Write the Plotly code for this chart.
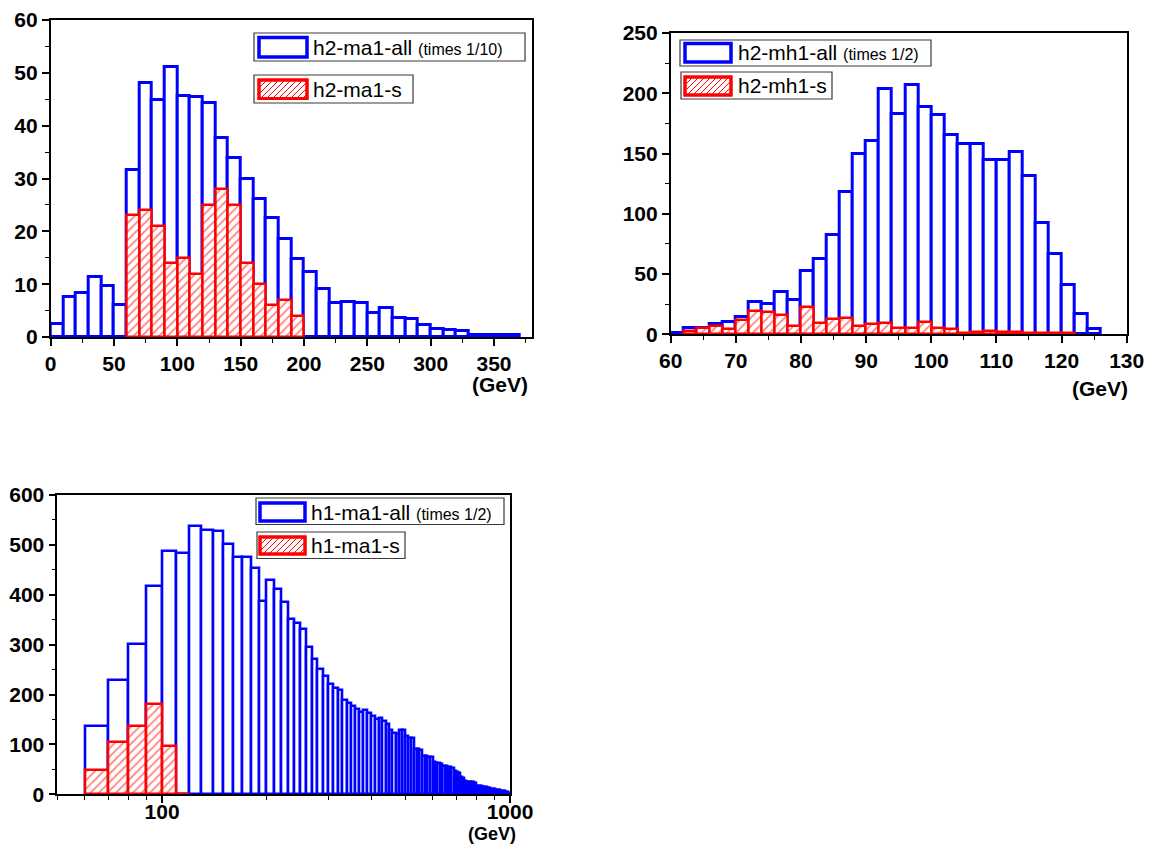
import math
import plotly.graph_objects as go

# page body keeps its default 8px margin, so the figure is sized to fit inside it
OFF = 8
W, H = 1153 - 2 * OFF, 852 - 2 * OFF

# ---------------- data ----------------
# top-left: h2-ma1, bins of 10 GeV
h2ma1_all_bins = list(range(0, 370, 10))
h2ma1_all = [2.4, 7.5, 8.4, 11.4, 9.6, 6.1, 31.7, 48.1, 44.8, 51.1, 45.6, 45.5, 44.2,
             37.7, 33.8, 29.9, 26.1, 22.5, 18.5, 14.8, 12.3, 9.0, 6.5, 6.7, 6.5, 4.6,
             5.4, 3.6, 3.4, 2.2, 1.5, 1.3, 1.1, 0.3, 0.3, 0.3, 0.3]
h2ma1_s_bins = list(range(60, 200, 10))
h2ma1_s = [23, 24, 21, 14, 15, 12, 25, 28, 25, 14, 10, 6, 7, 4]

# top-right: h2-mh1, bins of 2 GeV
h2mh1_all_bins = list(range(60, 126, 2))
h2mh1_all = [1, 5, 5.5, 8.5, 10.5, 14.5, 26.5, 25.5, 35.5, 28.5, 52.5, 62.5, 82.5, 118,
             149.5, 160.5, 203.5, 183, 207, 189, 182, 165, 157.5, 157.5, 145, 144.5,
             151.5, 131, 92.5, 66.5, 40.5, 17, 4.5]
h2mh1_s_bins = list(range(62, 122, 2))
h2mh1_s = [3, 5, 7, 4.5, 12, 19.5, 18.5, 16, 7, 23, 9, 13, 13.5, 7, 8.5, 9.5, 5.5, 5.5,
           10.5, 5.5, 4.5, 0.8, 1.5, 3, 1.5, 1.5, 0.8, 0.8, 0.8, 0.8]

# bottom: h1-ma1, bins of 10 GeV on a log axis
h1ma1_all_bins = list(range(60, 1000, 10))
h1ma1_all = [136.5, 229, 302, 417.5, 488, 484, 538, 530, 528.5, 502,
             476.5, 476, 453, 387, 429.5, 411, 386, 350.5, 343, 331,
             295, 271.5, 251.5, 238, 221.5, 212.5, 209.5, 190, 184, 178,
             172, 165, 169, 163, 156, 150, 152, 146, 141, 129,
             122, 121, 129, 128, 117, 113, 112, 91, 90, 89,
             77, 76, 75, 74, 64, 63, 62, 61, 57, 56,
             55, 54, 53, 46, 44, 43, 34, 33, 26, 25,
             24, 25, 24, 23, 17, 16, 16, 15, 15, 14,
             13, 13, 11, 10, 10, 9, 9, 8, 7, 6,
             6, 5, 4, 3]
h1ma1_s_bins = list(range(60, 120, 10))
h1ma1_s = [49.5, 104, 136.5, 182, 96.5, 1.5]

BLUE = "#0000ff"
RED = "#ff0000"
FONT = "Liberation Sans"

fig = go.Figure()


def add_pair(bins_all, vals_all, w, bins_s, vals_s, xa, ya, lw_all, lw_s):
    fig.add_trace(go.Bar(x=bins_all, y=vals_all, width=w, offset=0,
                         xaxis=xa, yaxis=ya, showlegend=False,
                         marker=dict(color="white", line=dict(color=BLUE, width=lw_all))))
    fig.add_trace(go.Bar(x=bins_s, y=vals_s, width=w, offset=0,
                         xaxis=xa, yaxis=ya, showlegend=False,
                         marker=dict(color="white", line=dict(color=RED, width=lw_s),
                                     pattern=dict(shape="/", fgcolor=RED, bgcolor="white",
                                                  size=6, solidity=0.3, fillmode="overlay"))))


add_pair(h2ma1_all_bins, h2ma1_all, 10, h2ma1_s_bins, h2ma1_s, "x", "y", 3, 2.5)
add_pair(h2mh1_all_bins, h2mh1_all, 2, h2mh1_s_bins, h2mh1_s, "x2", "y2", 3, 2.5)
add_pair(h1ma1_all_bins, h1ma1_all, 10, h1ma1_s_bins, h1ma1_s, "x3", "y3", 2.6, 2.6)


def px_x(p):
    return (p - OFF) / W


def px_y(p):
    return 1 - (p - OFF) / H


tickfont = dict(family=FONT, size=21, color="black", weight="bold")


def main_axis(domain, rng, anchor, dtick=None, minor_dtick=None, **kw):
    d = dict(domain=domain, range=rng, anchor=anchor, showline=True, mirror=True,
             linecolor="black", linewidth=1.6, ticks="outside", ticklen=7, tickwidth=1.6,
             tickcolor="black", showgrid=False, zeroline=False, tickfont=tickfont,
             fixedrange=True, automargin=False)
    if dtick is not None:
        d.update(tickmode="linear", tick0=rng[0], dtick=dtick)
    if minor_dtick is not None:
        d["minor"] = dict(dtick=minor_dtick, ticks="outside", ticklen=4, tickwidth=1.4,
                          tickcolor="black", showgrid=False)
    d.update(kw)
    return d


def mirror_axis(over, anchor, side, rng, tick0, dtick, **kw):
    d = dict(overlaying=over, anchor=anchor, side=side, range=rng, tickmode="linear",
             tick0=tick0, dtick=dtick, ticks="inside", ticklen=5, tickwidth=1.4,
             tickcolor="black", showticklabels=False, showline=False, showgrid=False,
             zeroline=False, fixedrange=True, automargin=False)
    d.update(kw)
    return d


x1d = [px_x(50.7), px_x(532)]
y1d = [px_y(337), px_y(20)]
x2d = [px_x(670.7), px_x(1126.7)]
y2d = [px_y(334.3), px_y(33)]
x3d = [px_x(57.3), px_x(510)]
y3d = [px_y(794.3), px_y(495)]
logr = [math.log10(50), 3]

layout = dict(
    width=W, height=H, margin=dict(l=0, r=0, t=0, b=0, pad=0, autoexpand=False),
    paper_bgcolor="white", plot_bgcolor="white", barmode="overlay", bargap=0,
    showlegend=False,
    xaxis=main_axis(x1d, [0, 380], "y", 50, 25),
    yaxis=main_axis(y1d, [0, 60], "x", 10, 5),
    xaxis2=main_axis(x2d, [60, 130], "y2", 10, 5),
    yaxis2=main_axis(y2d, [0, 250], "x2", 50, 25),
    xaxis3=main_axis(x3d, logr, "y3", type="log", tickmode="array",
                     tickvals=[100, 1000], ticktext=["100", "1000"],
                     ticklabelstandoff=-9,
                     minor=dict(tickvals=[50, 60, 70, 80, 90, 200, 300, 400, 500, 600,
                                          700, 800, 900],
                                ticks="outside", ticklen=4, tickwidth=1.4,
                                tickcolor="black", showgrid=False)),
    yaxis3=main_axis(y3d, [0, 600], "x3", 100, 50),
    xaxis4=mirror_axis("x", "y", "top", [0, 380], 0, 38),
    yaxis4=mirror_axis("y", "x", "right", [0, 60], 0, 6),
    xaxis5=mirror_axis("x2", "y2", "top", [60, 130], 60, 7),
    yaxis5=mirror_axis("y2", "x2", "right", [0, 250], 0, 25),
    xaxis6=mirror_axis("x3", "y3", "top", logr, math.log10(50), (3 - math.log10(50)) / 10,
                       type="log"),
    yaxis6=mirror_axis("y3", "x3", "right", [0, 600], 0, 60),
)
fig.update_layout(**layout)

shapes = []
annotations = []


def rect(x0, y0, x1, y1, color, width, fill="white"):
    shapes.append(dict(type="rect", xref="paper", yref="paper",
                       x0=px_x(x0), x1=px_x(x1), y0=px_y(y1), y1=px_y(y0),
                       line=dict(color=color, width=width), fillcolor=fill, layer="above"))


def hatch(x0, y0, x1, y1, step=6):
    w = x1 - x0
    h = y1 - y0
    c = -h + 2
    while c < w:
        u0 = max(c, 0)
        v0 = u0 - c
        u1 = min(w, c + h)
        v1 = u1 - c
        shapes.append(dict(type="line", xref="paper", yref="paper",
                           x0=px_x(x0 + u0), y0=px_y(y1 - v0),
                           x1=px_x(x0 + u1), y1=px_y(y1 - v1),
                           line=dict(color=RED, width=1), layer="above"))
        c += step


def legend_entry(box, sw, text_x, label, small, hatched):
    rect(*box, "#3a3a3a", 1.2)
    if hatched:
        rect(*sw, RED, 3, fill="white")
        hatch(*sw)
        rect(*sw, RED, 3, fill="rgba(0,0,0,0)")
    else:
        rect(*sw, BLUE, 3.5, fill="white")
    yc = (sw[1] + sw[3]) / 2
    txt = label
    if small:
        txt += ' <span style="font-size:16px">' + small + "</span>"
    annotations.append(dict(xref="paper", yref="paper", x=px_x(text_x), y=px_y(yc),
                            xanchor="left", yanchor="middle", showarrow=False, text=txt,
                            font=dict(family=FONT, size=21, color="black")))


# top-left legends
legend_entry((254, 33, 525, 61), (259, 37.5, 307, 57), 311, "h2-ma1-all", "(times 1/10)", False)
legend_entry((254, 75, 413, 103), (259, 80, 307, 98.5), 311, "h2-ma1-s", None, True)
# top-right legends
legend_entry((680, 40, 931, 66), (685, 43.5, 731, 62), 736, "h2-mh1-all", "(times 1/2)", False)
legend_entry((681, 72, 832, 99), (685, 77, 731, 95), 736, "h2-mh1-s", None, True)
# bottom legends
legend_entry((256, 498, 504, 524.5), (260, 503, 305, 521), 309, "h1-ma1-all", "(times 1/2)", False)
legend_entry((257, 532, 405, 558.5), (260, 537, 305, 554), 309, "h1-ma1-s", None, True)

# unit labels
for xr, yc, fs in [(530, 384, 21), (1130, 388, 21), (518, 834, 18)]:
    annotations.append(dict(xref="paper", yref="paper", x=px_x(xr), y=px_y(yc),
                            xanchor="right", yanchor="middle", showarrow=False,
                            text="(GeV)", font=dict(family=FONT, size=fs, color="black",
                                                    weight="bold")))

fig.update_layout(shapes=shapes, annotations=annotations)
fig.write_html("out.html")
